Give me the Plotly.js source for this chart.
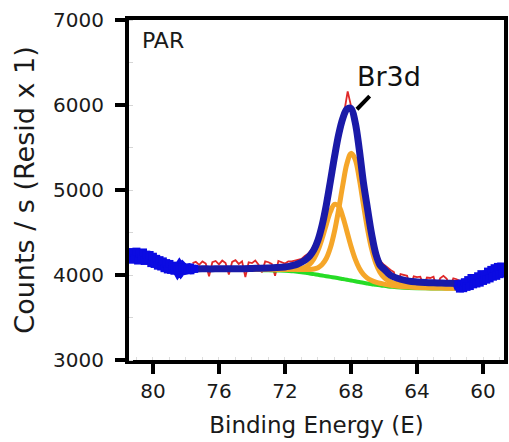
<!DOCTYPE html>
<html><head><meta charset="utf-8">
<script src="https://cdn.plot.ly/plotly-3.0.1.min.js"></script>
<style>html,body{margin:0;padding:0;background:#fff;} #chart{width:509px;height:442px;}</style>
</head><body><div id="chart"></div>
<script>
// Binding energy grid of the fitted curves (eV)
const fitEnergy = [77.5,77,76.5,76,75.5,75,74.5,74,73.5,73,72.5,72,
  71.75,71.5,71.25,71,70.75,70.5,70.25,70,69.75,69.5,69.25,69,68.75,68.5,68.25,68,67.75,67.5,67.25,67,66.75,66.5,66.25,66,65.75,65.5,
  65,64.5,64,63.5,63,62.5,62,61.5];
// Shirley-type background (green)
const backgroundCounts = [4065,4065,4064,4064,4063,4062,4061,4060,4058,4056,4053,4050,
  4047,4043,4038,4032,4025,4018,4010,4002,3994,3986,3978,3970,3962,3953,3944,3935,3926,3917,3908,3900,3892,3885,3878,3872,3866,3861,
  3853,3848,3845,3843,3842,3841,3840,3840];
// Component 1 (orange, ~67.9 eV)
const peak1Counts = [4069,4069,4068,4069,4069,4068,4069,4069,4068,4068,4068,4069,
  4068,4067,4066,4064,4064,4064,4070,4086,4123,4194,4320,4513,4769,5055,5308,5431,5363,5134,4832,4542,4306,4140,4034,3971,3935,3912,
  3888,3874,3865,3859,3855,3852,3849,3848];
// Component 2 (orange, ~68.9 eV)
const peak2Counts = [4068,4068,4067,4068,4067,4067,4067,4067,4067,4067,4067,4068,
  4069,4069,4071,4077,4094,4128,4190,4290,4429,4592,4743,4830,4811,4689,4515,4338,4190,4080,4007,3963,3935,3916,3903,3893,3884,3876,
  3865,3858,3853,3849,3847,3846,3844,3843];
// Fit envelope (dark blue)
const envelopeCounts = [4072,4073,4072,4074,4073,4074,4075,4077,4079,4082,4087,4095,
  4102,4112,4128,4150,4180,4225,4295,4410,4585,4820,5100,5390,5650,5840,5950,5960,5800,5480,5090,4780,4480,4250,4120,4070,4020,3985,
  3950,3928,3918,3912,3908,3905,3903,3900];
// Raw counts inside the fit window (red)
const rawEnergy = [77.6,77.4,77.2,77.0,76.8,76.6,76.4,76.2,76.0,75.8,75.6,75.4,75.2,75.0,74.8,74.6,74.4,74.2,74.0,73.8,73.6,73.4,73.2,73.0,
  72.8,72.6,72.4,72.2,72.0,71.8,71.6,
  71.4,71.2,71.0,70.8,70.6,70.4,70.2,70.0,69.8,69.6,69.4,69.2,69.0,68.8,68.6,68.4,68.2,68.0,67.8,67.6,67.4,67.2,67.0,66.8,66.6,66.4,66.2,
  66.0,65.8,65.6,65.4,65.2,65.0,64.8,64.6,64.4,64.2,64.0,63.8,63.6,63.4,63.2,63.0,62.8,62.6,62.4,62.2,62.0,61.8,61.6,61.4];
const rawCounts = [4140,4155,4120,4160,4135,3985,4150,4165,4125,4170,4140,4005,4155,4175,4130,4160,3975,4150,4140,4170,4120,4030,4160,4150,
  4130,3990,4165,4150,4135,4160,4160,
  4170,4180,4190,4225,4250,4300,4355,4460,4590,4770,4975,5200,5430,5640,5810,5930,6160,5990,5870,5650,5370,5060,4820,4580,4380,4250,4160,
  4120,4085,4060,4035,3860,4010,4000,3990,3850,3985,3975,3980,3870,3970,3965,3980,3845,3960,3990,3955,3860,3960,3950,3930];
// Raw counts outside the fit window (blue), high-energy side
const leftEnergy = [81.5,81.4,81.3,81.2,81.1,81.0,80.9,80.8,80.7,80.6,80.5,80.4,80.3,80.2,80.1,80.0,79.9,79.8,79.7,79.6,79.5,79.4,79.3,79.2,79.1,
  79.0,78.9,78.8,78.7,78.6,78.5,78.4,78.3,78.2,78.1,78.0,77.9,77.8,77.7,77.6,77.5];
const leftCounts = [4230,4270,4180,4260,4195,4275,4170,4250,4200,4265,4165,4240,4185,4235,4140,4215,4130,4190,4110,4175,4100,4160,4080,4140,4065,
  4130,4060,4110,4050,4095,4060,4090,4060,4085,4065,4080,4068,4076,4070,4074,4072];
// Raw counts outside the fit window (blue), low-energy side
const rightEnergy = [61.5,61.4,61.3,61.2,61.1,61.0,60.9,60.8,60.7,60.6,60.5,60.4,60.3,60.2,60.1,60.0,59.9,59.8,59.7,59.6,59.5,59.4,59.3,59.2,59.1,
  59.0,58.9,58.8,58.7];
const rightCounts = [3890,3840,3900,3845,3915,3860,3940,3870,3965,3890,3960,3900,3985,3910,4010,3930,4000,3945,4040,3960,4060,3980,4080,3990,4095,
  4010,4100,4020,4080];
// Axis ticks
const xTickValues = [80,76,72,68,64,60];
const yTickValues = [3000,4000,5000,6000,7000];

const FONT = 'DejaVu Sans, Liberation Sans, Arial, sans-serif';
const rawBlue = '#0b0be2';
const data = [
  {x: rawEnergy, y: rawCounts, mode: 'lines', line: {color: '#e02828', width: 1.8}, hoverinfo: 'skip'},
  {x: fitEnergy, y: backgroundCounts, mode: 'lines', line: {color: '#26dc26', width: 4, shape: 'spline'}},
  {x: fitEnergy, y: peak1Counts, mode: 'lines', line: {color: '#f5a629', width: 5, shape: 'spline'}},
  {x: fitEnergy, y: peak2Counts, mode: 'lines', line: {color: '#f5a629', width: 5, shape: 'spline'}},
  {x: fitEnergy, y: envelopeCounts, mode: 'lines', line: {color: '#1a1aa8', width: 7, shape: 'spline'}},
  {x: leftEnergy, y: leftCounts, mode: 'lines+markers', line: {color: rawBlue, width: 11}, marker: {color: rawBlue, size: 8, symbol: 'square'}},
  {x: rightEnergy, y: rightCounts, mode: 'lines+markers', line: {color: rawBlue, width: 11}, marker: {color: rawBlue, size: 8, symbol: 'square'}}
];

const axisCommon = {
  ticks: 'outside', ticklen: 10, tickwidth: 4, tickcolor: '#000',
  showline: true, linewidth: 4, linecolor: '#000', mirror: true,
  showgrid: false, zeroline: false,
  tickfont: {family: FONT, size: 20, color: '#1a1a1a'}
};

const layout = {
  width: 509, height: 442,
  margin: {l: 129, r: 5, t: 20, b: 82},
  paper_bgcolor: '#ffffff', plot_bgcolor: '#ffffff',
  showlegend: false,
  font: {family: FONT, color: '#1a1a1a'},
  xaxis: Object.assign({}, axisCommon, {
    range: [81.45, 58.73], autorange: false,
    tickmode: 'array', tickvals: xTickValues, ticktext: xTickValues.map(String),
    minor: {ticks: 'inside', ticklen: 3, tickwidth: 1, tickcolor: '#dddddd', dtick: 1},
    title: {text: 'Binding Energy (E)', font: {family: FONT, size: 23, color: '#1a1a1a'}, standoff: 16}
  }),
  yaxis: Object.assign({}, axisCommon, {
    range: [3000, 7000], autorange: false,
    tickmode: 'array', tickvals: yTickValues, ticktext: yTickValues.map(String),
    ticklabelstandoff: 7,
    minor: {ticks: 'inside', ticklen: 4, tickwidth: 1, tickcolor: '#d6d6d6', dtick: 500},
    title: {text: 'Counts / s (Resid x 1)', font: {family: FONT, size: 27, color: '#1a1a1a'}, standoff: 12}
  }),
  annotations: [
    {xref: 'paper', yref: 'paper', x: 0.029, y: 0.941, xanchor: 'left', yanchor: 'middle',
     text: 'PAR', showarrow: false, font: {family: FONT, size: 22, color: '#1a1a1a'}},
    {xref: 'x', yref: 'y', x: 67.64, y: 5950, text: 'Br3d', showarrow: true,
     ax: 32, ay: -33, arrowhead: 0, arrowwidth: 4, arrowcolor: '#000', startstandoff: 4,
     font: {family: FONT, size: 27, color: '#111'}}
  ]
};

Plotly.newPlot('chart', data, layout, {staticPlot: true, displayModeBar: false});
</script>
</body></html>
